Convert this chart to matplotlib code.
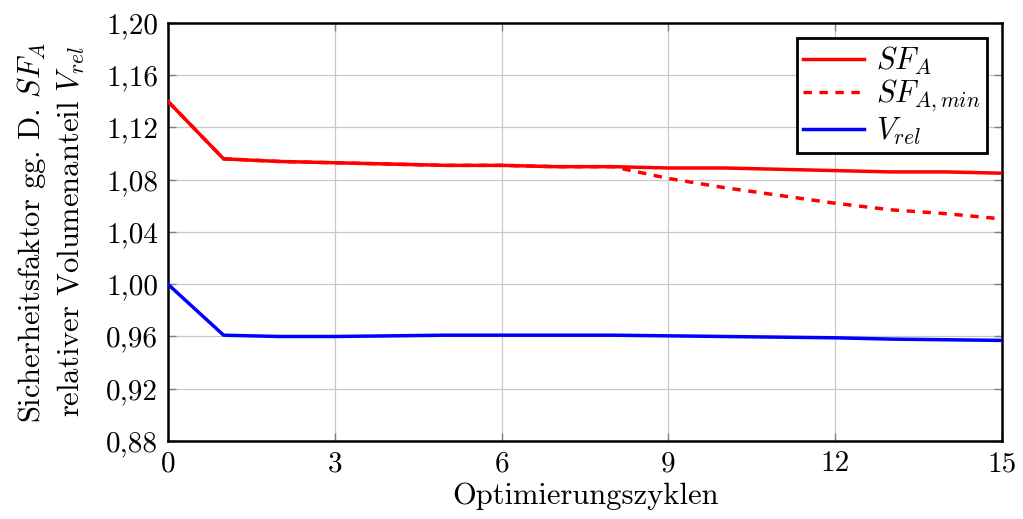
import numpy as np
import matplotlib.pyplot as plt
from matplotlib.ticker import FuncFormatter

plt.rcParams['font.family'] = 'serif'
plt.rcParams['font.serif'] = ['cmr10']
plt.rcParams['mathtext.fontset'] = 'cm'
plt.rcParams['axes.unicode_minus'] = False

# Daten
zyklen = [0, 1, 2, 3, 4, 5, 6, 7, 8, 9, 10, 11, 12, 13, 14, 15]
sf_a = [1.140, 1.096, 1.094, 1.093, 1.092, 1.091, 1.091, 1.090, 1.090,
        1.089, 1.089, 1.088, 1.087, 1.086, 1.086, 1.085]
sf_a_min = [1.140, 1.096, 1.094, 1.093, 1.092, 1.091, 1.091, 1.090, 1.090,
            1.081, 1.074, 1.068, 1.062, 1.057, 1.054, 1.050]
v_rel = [1.000, 0.961, 0.960, 0.960, 0.9605, 0.961, 0.961, 0.961, 0.961,
         0.9605, 0.960, 0.9595, 0.959, 0.958, 0.9575, 0.957]

x_ticks = [0, 3, 6, 9, 12, 15]
y_ticks = [0.88, 0.92, 0.96, 1.00, 1.04, 1.08, 1.12, 1.16, 1.20]

fig = plt.figure(figsize=(10.23, 5.19), dpi=100)
ax = fig.add_axes([0.1642, 0.1503, 0.8153, 0.8054])

ax.plot(zyklen, sf_a, color='red', lw=2.5, label='$SF_A$', zorder=3)
ax.plot(zyklen, sf_a_min, color='red', lw=2.5, ls=(0, (2.4, 2.2)),
        label='$SF_{A,min}$', zorder=3)
ax.plot(zyklen, v_rel, color='blue', lw=2.5, label='$V_{rel}$', zorder=3)

ax.set_xlim(0, 15)
ax.set_ylim(0.88, 1.20)
ax.set_xticks(x_ticks)
ax.set_yticks(y_ticks)
ax.yaxis.set_major_formatter(FuncFormatter(lambda v, p: f'{v:.2f}'.replace('.', ',')))
ax.grid(True, color='#c8c8c8', lw=0.9)
ax.tick_params(direction='in', length=6, width=1, color='#808080',
               labelsize=21, top=True, right=True, pad=7)
for s in ax.spines.values():
    s.set_linewidth(1.8)

ax.set_xlabel('Optimierungszyklen', fontsize=22, labelpad=4)
ax.set_ylabel('Sicherheitsfaktor gg. D. $SF_A$\nrelativer Volumenanteil $V_{rel}$',
              fontsize=22, labelpad=14, linespacing=1.3)

leg = ax.legend(loc='upper right', fontsize=22, fancybox=False, framealpha=1,
                edgecolor='black', borderaxespad=0.5, handlelength=2.0,
                labelspacing=0.05, borderpad=0.2, handletextpad=0.4)
leg.get_frame().set_linewidth(2)

fig.savefig('out.png', dpi=100)
